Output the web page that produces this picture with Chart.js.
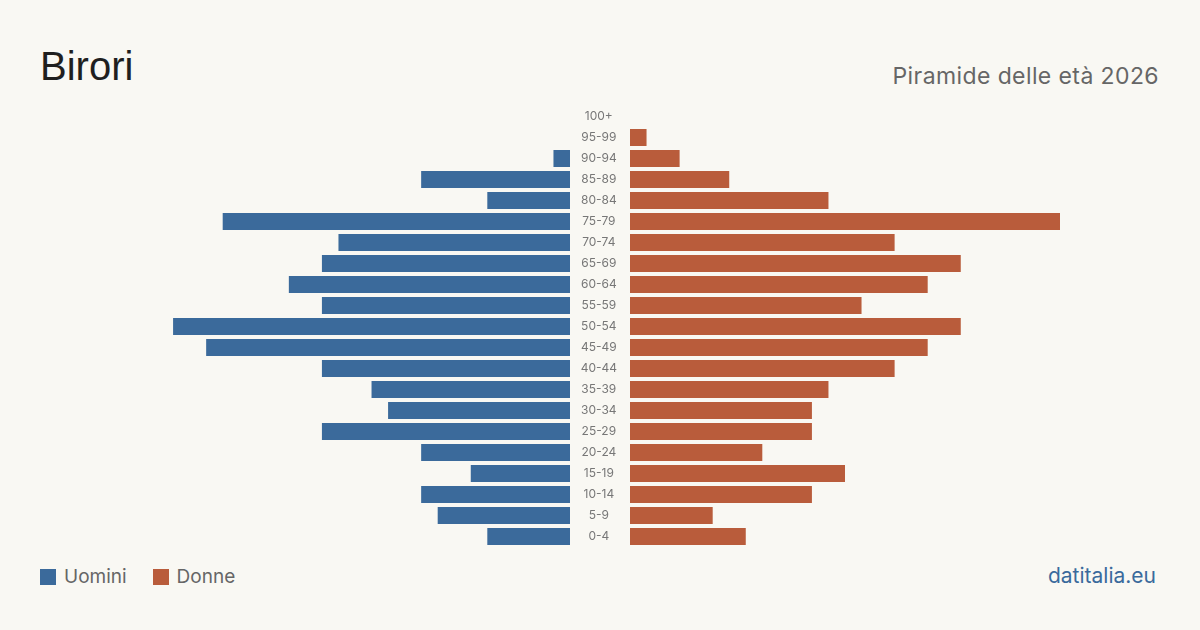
<!DOCTYPE html>
<html lang="it">
<head>
<meta charset="utf-8">
<title>Birori - Piramide delle età 2026</title>
<script src="https://cdn.jsdelivr.net/npm/chart.js@4.4.1/dist/chart.umd.min.js"></script>
<style>
    html, body {
        margin: 0;
        padding: 0;
        background: #f9f8f3;
    }
    #page {
        position: relative;
        width: 1200px;
        height: 630px;
        background: #f9f8f3;
        font-family: Inter, "Liberation Sans", sans-serif;
        overflow: hidden;
    }
    .title {
        position: absolute;
        left: 40px;
        top: 43px;
        font-family: "Liberation Sans", Arial, sans-serif;
        font-size: 40px;
        line-height: 46px;
        color: #1f1f1f;
    }
    .subtitle {
        position: absolute;
        right: 41px;
        top: 62px;
        font-size: 23px;
        letter-spacing: 0.4px;
        line-height: 28px;
        color: #666;
    }
    .legend {
        position: absolute;
        left: 40px;
        top: 565px;
        font-size: 19px;
        line-height: 24px;
        color: #666;
        display: flex;
        align-items: center;
    }
    .legend span.box {
        display: inline-block;
        width: 16px;
        height: 16px;
        margin-right: 8px;
    }
    .legend span.item {
        display: flex;
        align-items: center;
        margin-right: 26px;
    }
    .source {
        position: absolute;
        right: 44px;
        top: 563px;
        font-size: 21px;
        line-height: 26px;
        color: #3a6a9c;
    }
    #leftWrap {
        position: absolute;
        left: 140px;
        top: 106px;
        width: 430px;
        height: 441px;
    }
    #rightWrap {
        position: absolute;
        left: 570px;
        top: 106px;
        width: 490px;
        height: 441px;
    }
</style>
</head>
<body>
<div id="page">
    <div class="title">Birori</div>
    <div class="subtitle">Piramide delle età 2026</div>

    <div id="leftWrap"><canvas id="menChart"></canvas></div>
    <div id="rightWrap"><canvas id="womenChart"></canvas></div>

    <div class="legend">
        <span class="item"><span class="box" style="background:#3b6a9b"></span>Uomini</span>
        <span class="item"><span class="box" style="background:#b95c3b"></span>Donne</span>
    </div>
    <div class="source">datitalia.eu</div>
</div>

<script>
// Age groups, top to bottom
const ageGroups = ['100+', '95-99', '90-94', '85-89', '80-84', '75-79', '70-74', '65-69', '60-64', '55-59',
    '50-54', '45-49', '40-44', '35-39', '30-34', '25-29', '20-24', '15-19', '10-14', '5-9', '0-4'];

// Residents per age group
const men = [0, 0, 1, 9, 5, 21, 14, 15, 17, 15, 24, 22, 15, 12, 11, 15, 9, 6, 9, 8, 5];
const women = [0, 1, 3, 6, 12, 26, 16, 20, 18, 14, 20, 18, 16, 12, 11, 11, 8, 13, 11, 5, 7];

const maxValue = 26;

const menColor = '#3b6a9b';
const womenColor = '#b95c3b';

document.addEventListener('DOMContentLoaded', function() {
    // Uomini (left side, reversed axis)
    new Chart(document.getElementById('menChart'), {
        type: 'bar',
        data: {
            labels: ageGroups,
            datasets: [{
                label: 'Uomini',
                data: men,
                backgroundColor: menColor,
                borderWidth: 0,
                categoryPercentage: 1,
                barPercentage: 0.81
            }]
        },
        options: {
            indexAxis: 'y',
            responsive: true,
            maintainAspectRatio: false,
            animation: false,
            layout: { padding: 0 },
            scales: {
                x: {
                    display: false,
                    reverse: true,
                    min: 0,
                    max: maxValue
                },
                y: {
                    display: false
                }
            },
            plugins: {
                legend: { display: false },
                tooltip: { enabled: false }
            }
        }
    });

    // Donne (right side, age labels in the axis column)
    new Chart(document.getElementById('womenChart'), {
        type: 'bar',
        data: {
            labels: ageGroups,
            datasets: [{
                label: 'Donne',
                data: women,
                backgroundColor: womenColor,
                borderWidth: 0,
                categoryPercentage: 1,
                barPercentage: 0.81
            }]
        },
        options: {
            indexAxis: 'y',
            responsive: true,
            maintainAspectRatio: false,
            animation: false,
            layout: { padding: 0 },
            scales: {
                x: {
                    display: false,
                    min: 0,
                    max: maxValue
                },
                y: {
                    afterFit: function(scale) {
                        // fixed label column, no extra vertical padding
                        scale.width = 60;
                        scale.paddingTop = 0;
                        scale.paddingBottom = 0;
                    },
                    grid: { display: false, drawTicks: false },
                    border: { display: false },
                    ticks: {
                        crossAlign: 'center',
                        padding: 13,
                        autoSkip: false,
                        color: '#777',
                        font: { family: 'Inter, "Liberation Sans", sans-serif', size: 12 }
                    }
                }
            },
            plugins: {
                legend: { display: false },
                tooltip: { enabled: false }
            }
        }
    });
});
</script>
</body>
</html>
